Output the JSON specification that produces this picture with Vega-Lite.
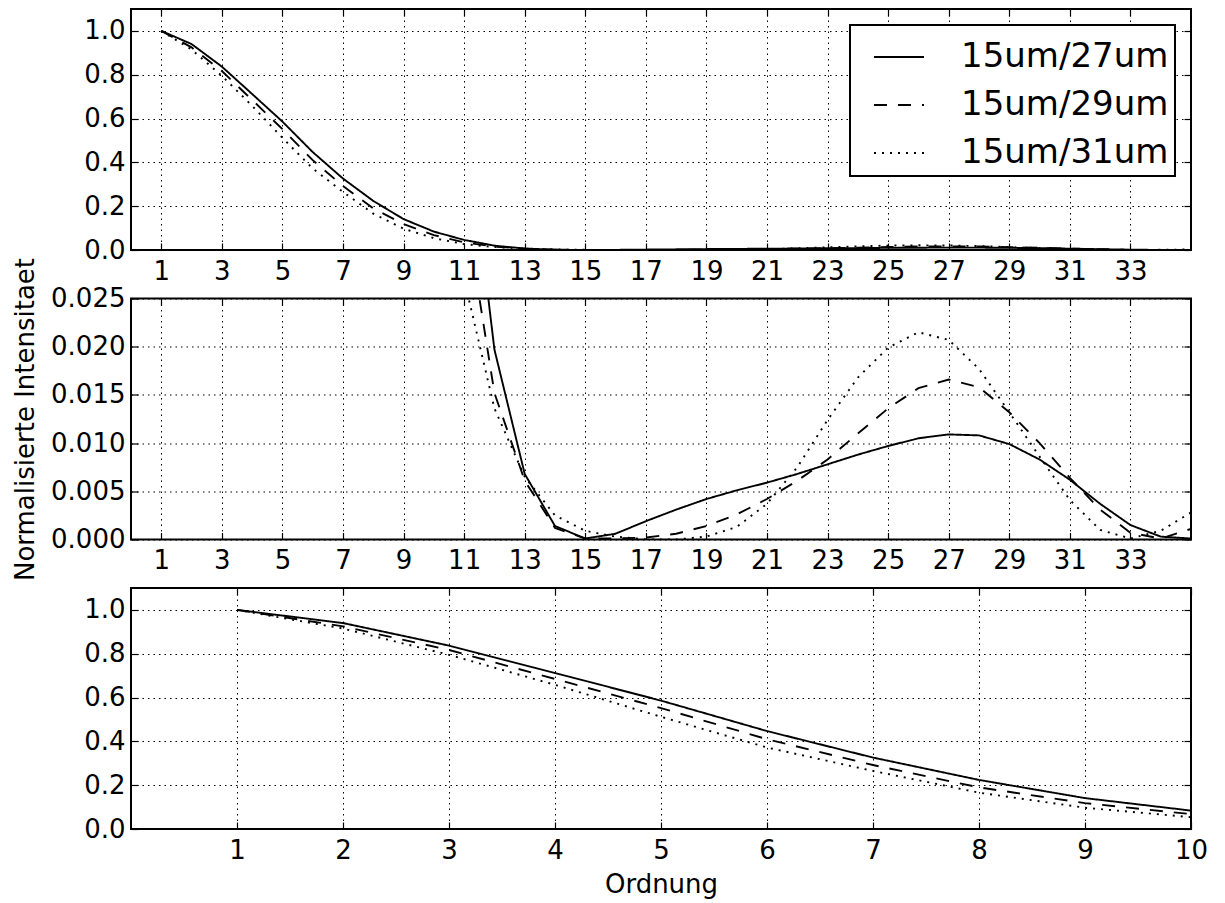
{
  "$schema": "https://vega.github.io/schema/vega-lite/v6.json",
  "padding": {"left": 11, "top": 7, "right": 5, "bottom": 5},
  "datasets": {
    "d": [
      {"x": 1, "y": 1.0, "s": "15um/27um"}, {"x": 2, "y": 0.94, "s": "15um/27um"}, {"x": 3, "y": 0.837, "s": "15um/27um"}, {"x": 4, "y": 0.712, "s": "15um/27um"}, {"x": 5, "y": 0.586, "s": "15um/27um"}, {"x": 6, "y": 0.447, "s": "15um/27um"}, {"x": 7, "y": 0.326, "s": "15um/27um"}, {"x": 8, "y": 0.224, "s": "15um/27um"}, {"x": 9, "y": 0.141, "s": "15um/27um"}, {"x": 10, "y": 0.084, "s": "15um/27um"},
      {"x": 11, "y": 0.046, "s": "15um/27um"}, {"x": 12, "y": 0.0197, "s": "15um/27um"}, {"x": 13, "y": 0.0068, "s": "15um/27um"}, {"x": 14, "y": 0.0014, "s": "15um/27um"}, {"x": 15, "y": 0.0001, "s": "15um/27um"}, {"x": 16, "y": 0.0006, "s": "15um/27um"}, {"x": 17, "y": 0.0019, "s": "15um/27um"}, {"x": 18, "y": 0.0031, "s": "15um/27um"}, {"x": 19, "y": 0.0042, "s": "15um/27um"}, {"x": 20, "y": 0.0051, "s": "15um/27um"},
      {"x": 21, "y": 0.0059, "s": "15um/27um"}, {"x": 22, "y": 0.0068, "s": "15um/27um"}, {"x": 23, "y": 0.0078, "s": "15um/27um"}, {"x": 24, "y": 0.0088, "s": "15um/27um"}, {"x": 25, "y": 0.0097, "s": "15um/27um"}, {"x": 26, "y": 0.0105, "s": "15um/27um"}, {"x": 27, "y": 0.0109, "s": "15um/27um"}, {"x": 28, "y": 0.0108, "s": "15um/27um"}, {"x": 29, "y": 0.0099, "s": "15um/27um"}, {"x": 30, "y": 0.0083, "s": "15um/27um"},
      {"x": 31, "y": 0.0062, "s": "15um/27um"}, {"x": 32, "y": 0.0037, "s": "15um/27um"}, {"x": 33, "y": 0.0015, "s": "15um/27um"}, {"x": 34, "y": 0.0003, "s": "15um/27um"}, {"x": 35, "y": 0.0001, "s": "15um/27um"},
      {"x": 1, "y": 1.0, "s": "15um/29um"}, {"x": 2, "y": 0.925, "s": "15um/29um"}, {"x": 3, "y": 0.817, "s": "15um/29um"}, {"x": 4, "y": 0.685, "s": "15um/29um"}, {"x": 5, "y": 0.552, "s": "15um/29um"}, {"x": 6, "y": 0.41, "s": "15um/29um"}, {"x": 7, "y": 0.292, "s": "15um/29um"}, {"x": 8, "y": 0.19, "s": "15um/29um"}, {"x": 9, "y": 0.118, "s": "15um/29um"}, {"x": 10, "y": 0.068, "s": "15um/29um"},
      {"x": 11, "y": 0.035, "s": "15um/29um"}, {"x": 12, "y": 0.0152, "s": "15um/29um"}, {"x": 13, "y": 0.0061, "s": "15um/29um"}, {"x": 14, "y": 0.0012, "s": "15um/29um"}, {"x": 15, "y": 0.0001, "s": "15um/29um"}, {"x": 16, "y": 0.0001, "s": "15um/29um"}, {"x": 17, "y": 0.0002, "s": "15um/29um"}, {"x": 18, "y": 0.0006, "s": "15um/29um"}, {"x": 19, "y": 0.0014, "s": "15um/29um"}, {"x": 20, "y": 0.0026, "s": "15um/29um"},
      {"x": 21, "y": 0.0042, "s": "15um/29um"}, {"x": 22, "y": 0.0061, "s": "15um/29um"}, {"x": 23, "y": 0.0083, "s": "15um/29um"}, {"x": 24, "y": 0.011, "s": "15um/29um"}, {"x": 25, "y": 0.0136, "s": "15um/29um"}, {"x": 26, "y": 0.0157, "s": "15um/29um"}, {"x": 27, "y": 0.0166, "s": "15um/29um"}, {"x": 28, "y": 0.0158, "s": "15um/29um"}, {"x": 29, "y": 0.0132, "s": "15um/29um"}, {"x": 30, "y": 0.01, "s": "15um/29um"},
      {"x": 31, "y": 0.0064, "s": "15um/29um"}, {"x": 32, "y": 0.0031, "s": "15um/29um"}, {"x": 33, "y": 0.0007, "s": "15um/29um"}, {"x": 34, "y": 0.0001, "s": "15um/29um"}, {"x": 35, "y": 0.0011, "s": "15um/29um"},
      {"x": 1, "y": 1.0, "s": "15um/31um"}, {"x": 2, "y": 0.915, "s": "15um/31um"}, {"x": 3, "y": 0.795, "s": "15um/31um"}, {"x": 4, "y": 0.658, "s": "15um/31um"}, {"x": 5, "y": 0.512, "s": "15um/31um"}, {"x": 6, "y": 0.372, "s": "15um/31um"}, {"x": 7, "y": 0.265, "s": "15um/31um"}, {"x": 8, "y": 0.166, "s": "15um/31um"}, {"x": 9, "y": 0.097, "s": "15um/31um"}, {"x": 10, "y": 0.054, "s": "15um/31um"},
      {"x": 11, "y": 0.027, "s": "15um/31um"}, {"x": 12, "y": 0.0136, "s": "15um/31um"}, {"x": 13, "y": 0.0065, "s": "15um/31um"}, {"x": 14, "y": 0.0025, "s": "15um/31um"}, {"x": 15, "y": 0.0009, "s": "15um/31um"}, {"x": 16, "y": 0.0003, "s": "15um/31um"}, {"x": 17, "y": 0.0, "s": "15um/31um"}, {"x": 18, "y": 0.0, "s": "15um/31um"}, {"x": 19, "y": 0.0003, "s": "15um/31um"}, {"x": 20, "y": 0.0013, "s": "15um/31um"},
      {"x": 21, "y": 0.0037, "s": "15um/31um"}, {"x": 22, "y": 0.0075, "s": "15um/31um"}, {"x": 23, "y": 0.0124, "s": "15um/31um"}, {"x": 24, "y": 0.0168, "s": "15um/31um"}, {"x": 25, "y": 0.0199, "s": "15um/31um"}, {"x": 26, "y": 0.0215, "s": "15um/31um"}, {"x": 27, "y": 0.0207, "s": "15um/31um"}, {"x": 28, "y": 0.0177, "s": "15um/31um"}, {"x": 29, "y": 0.0132, "s": "15um/31um"}, {"x": 30, "y": 0.0086, "s": "15um/31um"},
      {"x": 31, "y": 0.0041, "s": "15um/31um"}, {"x": 32, "y": 0.001, "s": "15um/31um"}, {"x": 33, "y": 0.0001, "s": "15um/31um"}, {"x": 34, "y": 0.0009, "s": "15um/31um"}, {"x": 35, "y": 0.0028, "s": "15um/31um"}
    ]
  },
  "config": {
    "font": "DejaVu Sans",
    "view": {"stroke": "black", "strokeWidth": 2},
    "axis": {
      "labelFont": "DejaVu Sans", "labelFontSize": 26, "labelColor": "black",
      "titleFont": "DejaVu Sans", "titleFontSize": 26, "titleFontWeight": "normal", "titleColor": "black",
      "domain": false, "grid": true, "gridColor": "black", "gridDash": [1.5, 4], "gridWidth": 1, "gridOpacity": 1,
      "tickColor": "black", "tickSize": -7, "tickWidth": 1.2, "labelPadding": 15,
      "labelFlush": false, "labelOverlap": false
    },
    "axisY": {"labelPadding": 13}
  },
  "spacing": 48.5,
  "bounds": "flush",
  "resolve": {"legend": {"strokeDash": "independent"}},
  "vconcat": [
    {
      "width": 1060, "height": 241,
      "data": {"name": "d"},
      "layer": [
        {
          "mark": {"type": "line", "clip": true, "strokeWidth": 1.9, "color": "black"},
          "encoding": {
            "x": {"field": "x", "type": "quantitative", "scale": {"domain": [0, 35], "nice": false, "zero": false},
                  "axis": {"values": [1,3,5,7,9,11,13,15,17,19,21,23,25,27,29,31,33], "format": "d", "title": null}},
            "y": {"field": "y", "type": "quantitative", "scale": {"domain": [0, 1.1], "nice": false},
                  "axis": {"values": [0,0.2,0.4,0.6,0.8,1.0], "format": ".1f", "title": null}},
            "strokeDash": {"field": "s", "type": "nominal",
              "scale": {"domain": ["15um/27um", "15um/29um", "15um/31um"], "range": [[1, 0], [13, 11], [2, 6]]},
              "legend": {"title": null, "orient": "top-right", "offset": 16, "labelFontSize": 34, "labelFont": "DejaVu Sans", "labelColor": "black", "labelLimit": 0,
                "symbolType": "stroke", "symbolSize": 2500, "symbolStrokeWidth": 1.9, "symbolStrokeColor": "black",
                "strokeColor": "black", "fillColor": "white", "padding": 6, "rowPadding": 5, "labelOffset": 36, "symbolOffset": 17,
                "encode": {"legend": {"update": {"strokeWidth": {"value": 2}}}}}}
          }
        },
        {
          "mark": {"type": "line", "opacity": 0},
          "encoding": {
            "x": {"field": "x", "type": "quantitative", "axis": {"orient": "top", "labels": false, "grid": false, "values": [1,3,5,7,9,11,13,15,17,19,21,23,25,27,29,31,33], "title": null}},
            "y": {"field": "y", "type": "quantitative", "axis": {"orient": "right", "labels": false, "grid": false, "values": [0,0.2,0.4,0.6,0.8,1.0], "title": null}},
            "detail": {"field": "s"}
          }
        }
      ],
      "resolve": {"axis": {"x": "independent", "y": "independent"}}
    },
    {
      "width": 1060, "height": 241,
      "data": {"name": "d"},
      "layer": [
        {
          "mark": {"type": "line", "clip": true, "strokeWidth": 1.9, "color": "black"},
          "encoding": {
            "x": {"field": "x", "type": "quantitative", "scale": {"domain": [0, 35], "nice": false, "zero": false},
                  "axis": {"values": [1,3,5,7,9,11,13,15,17,19,21,23,25,27,29,31,33], "format": "d", "title": null}},
            "y": {"field": "y", "type": "quantitative", "scale": {"domain": [0, 0.025], "nice": false},
                  "axis": {"values": [0,0.005,0.01,0.015,0.02,0.025], "format": ".3f", "title": "Normalisierte Intensitaet", "titlePadding": 12}},
            "strokeDash": {"field": "s", "type": "nominal",
              "scale": {"domain": ["15um/27um", "15um/29um", "15um/31um"], "range": [[1, 0], [13, 11], [2, 6]]},
              "legend": null}
          }
        },
        {
          "mark": {"type": "line", "opacity": 0, "clip": true},
          "encoding": {
            "x": {"field": "x", "type": "quantitative", "axis": {"orient": "top", "labels": false, "grid": false, "values": [1,3,5,7,9,11,13,15,17,19,21,23,25,27,29,31,33], "title": null}},
            "y": {"field": "y", "type": "quantitative", "axis": {"orient": "right", "labels": false, "grid": false, "values": [0,0.005,0.01,0.015,0.02,0.025], "title": null}},
            "detail": {"field": "s"}
          }
        }
      ],
      "resolve": {"axis": {"x": "independent", "y": "independent"}}
    },
    {
      "width": 1060, "height": 241,
      "data": {"name": "d"},
      "layer": [
        {
          "mark": {"type": "line", "clip": true, "strokeWidth": 1.9, "color": "black"},
          "encoding": {
            "x": {"field": "x", "type": "quantitative", "scale": {"domain": [0, 10], "nice": false, "zero": false},
                  "axis": {"values": [1,2,3,4,5,6,7,8,9,10], "format": "d", "title": "Ordnung", "titlePadding": 8}},
            "y": {"field": "y", "type": "quantitative", "scale": {"domain": [0, 1.1], "nice": false},
                  "axis": {"values": [0,0.2,0.4,0.6,0.8,1.0], "format": ".1f", "title": null}},
            "strokeDash": {"field": "s", "type": "nominal",
              "scale": {"domain": ["15um/27um", "15um/29um", "15um/31um"], "range": [[1, 0], [13, 11], [2, 6]]},
              "legend": null}
          }
        },
        {
          "mark": {"type": "line", "opacity": 0, "clip": true},
          "encoding": {
            "x": {"field": "x", "type": "quantitative", "axis": {"orient": "top", "labels": false, "grid": false, "values": [1,2,3,4,5,6,7,8,9,10], "title": null}},
            "y": {"field": "y", "type": "quantitative", "axis": {"orient": "right", "labels": false, "grid": false, "values": [0,0.2,0.4,0.6,0.8,1.0], "title": null}},
            "detail": {"field": "s"}
          }
        }
      ],
      "resolve": {"axis": {"x": "independent", "y": "independent"}}
    }
  ]
}
